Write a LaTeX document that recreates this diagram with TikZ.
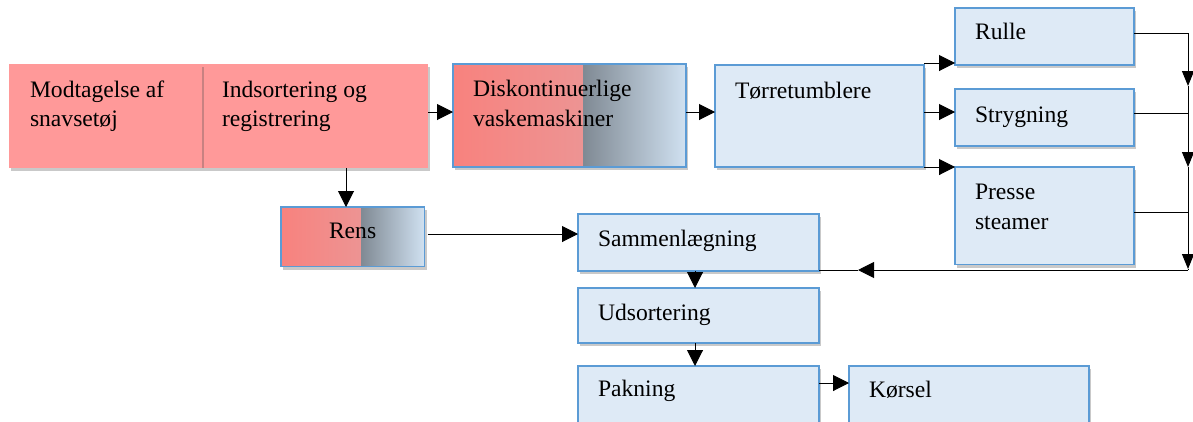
\documentclass[tikz,border=0pt]{standalone}
\usepackage{fontspec}
\setmainfont{Liberation Serif}
\usetikzlibrary{arrows.meta,shadows,calc}
\definecolor{boxfill}{HTML}{DEEAF6}
\definecolor{boxline}{HTML}{5B9BD5}
\definecolor{pinkfill}{HTML}{FF9999}
\definecolor{gradA}{HTML}{F8827E}
\definecolor{gradB}{HTML}{E4A2A4}
\definecolor{gradC}{HTML}{808A94}
\definecolor{gradD}{HTML}{D0E1F1}
\newcommand{\bxtext}[6]{\parbox[t][\dimexpr#2pt\relax][t]{\dimexpr#1pt\relax}{\raggedright\leftskip=#3pt\relax\vspace*{\dimexpr#4pt-20.65pt\relax}\strut #5}}
\tikzset{
  shad/.style={drop shadow={shadow xshift=2pt,shadow yshift=-3pt,opacity=0.3,fill=black!70}},
  bluebox/.style={draw=boxline,line width=1.4pt,fill=boxfill,inner sep=0pt,outer sep=0pt,anchor=north west,shad},
  pinkbox/.style={draw=none,fill=pinkfill,inner sep=0pt,outer sep=0pt,anchor=north west,shad},
  splitbox/.style={draw=boxline,line width=1.4pt,fill=boxfill,inner sep=0pt,outer sep=0pt,anchor=north west,shad,
    path picture={
      \shade[left color=gradA,right color=gradB] (path picture bounding box.north west) rectangle ($(path picture bounding box.south west)!0.56!(path picture bounding box.south east)$);
      \shade[left color=gradC,right color=gradD] ($(path picture bounding box.north west)!0.56!(path picture bounding box.north east)$) rectangle (path picture bounding box.south east);
    }},
  arr/.style={-{Triangle[length=16pt,width=16pt]},line width=1pt},
  arrs/.style={-{Triangle[length=15pt,width=12pt]},line width=1pt},
  ln/.style={line width=1pt},
}
\begin{document}
\begin{tikzpicture}[x=1pt,y=-1pt,font=\fontsize{23.6}{29.5}\selectfont]
\useasboundingbox (0,0) rectangle (1193,421);
% pink boxes
\node[pinkbox] (ind) at (202,64) {\bxtext{226}{104}{20}{33}{Indsortering og\\registrering}{}};
\node[pinkbox] (mod) at (9,64) {\bxtext{193}{104}{21}{33}{Modtagelse af\\snavsetøj}{}};
% gradient boxes
\node[splitbox] (disk) at (453,64) {\bxtext{233}{103}{20}{32.7}{Diskontinuerlige\\vaskemaskiner}{}};
\node[splitbox] (rens) at (281,207) {\bxtext{143.5}{59.5}{48}{31.7}{Rens}{}};
% blue boxes
\node[bluebox] (tor) at (715,65) {\bxtext{209}{102}{20}{33}{Tørretumblere}{}};
\node[bluebox] (rulle) at (955,8) {\bxtext{179}{57}{20}{31.7}{Rulle}{}};
\node[bluebox] (stry) at (955,89) {\bxtext{179}{57}{20}{33.7}{Strygning}{}};
\node[bluebox] (presse) at (955,167) {\bxtext{179}{97.5}{20}{32.6}{Presse\\steamer}{}};
\node[bluebox] (samm) at (578,214) {\bxtext{241}{57}{20}{32.4}{Sammenlægning}{}};
\node[bluebox] (uds) at (578,288) {\bxtext{241}{55}{20}{32.4}{Udsortering}{}};
\node[bluebox] (pak) at (578,366) {\bxtext{241}{70}{20}{30.7}{Pakning}{}};
\node[bluebox] (kor) at (849,366) {\bxtext{240}{70}{20}{31}{Kørsel}{}};
% coordinates
\coordinate (h1) at (0,112);
\coordinate (v1) at (346,0);
\coordinate (t1) at (0,63);
\coordinate (t2) at (0,112);
\coordinate (t3) at (0,167);
\coordinate (r1) at (1188,33);
\coordinate (r2) at (1188,113);
\coordinate (r3) at (1188,212);
\coordinate (r4) at (1188,270);
\coordinate (a1) at (1188,86);
\coordinate (a2) at (1188,167);
\coordinate (a3) at (1188,269);
\coordinate (b1) at (858,270);
\coordinate (rs) at (0,234);
\coordinate (vs) at (695,0);
\coordinate (p1) at (0,383);
% connectors
\draw[arr] (ind.east |- h1) -- (disk.west |- h1);
\draw[arr] (disk.east |- h1) -- (tor.west |- h1);
\draw[arr] (ind.south -| v1) -- (rens.north -| v1);
\draw[arr] (tor.east |- t1) -- (rulle.west |- t1);
\draw[arr] (tor.east |- t2) -- (stry.west |- t2);
\draw[arr] (tor.east |- t3) -- (presse.west |- t3);
\draw[ln] (rulle.east |- r1) -- (r1);
\draw[ln] (stry.east |- r2) -- (r2);
\draw[ln] (presse.east |- r3) -- (r3);
\draw[arrs] (r1) -- (a1);
\draw[arrs] (a1) -- (a2);
\draw[arrs] (a2) -- (a3);
\draw[ln] (a3) -- (r4);
\draw[arr] (r4) -- (b1);
\draw[ln] (b1) -- (samm.east |- b1);
\draw[arr] ([xshift=3pt]rens.east |- rs) -- (samm.west |- rs);
\draw[arr] (samm.south -| vs) -- (uds.north -| vs);
\draw[arr] (uds.south -| vs) -- (pak.north -| vs);
\draw[arr] (pak.east |- p1) -- (kor.west |- p1);
\end{tikzpicture}
\end{document}
